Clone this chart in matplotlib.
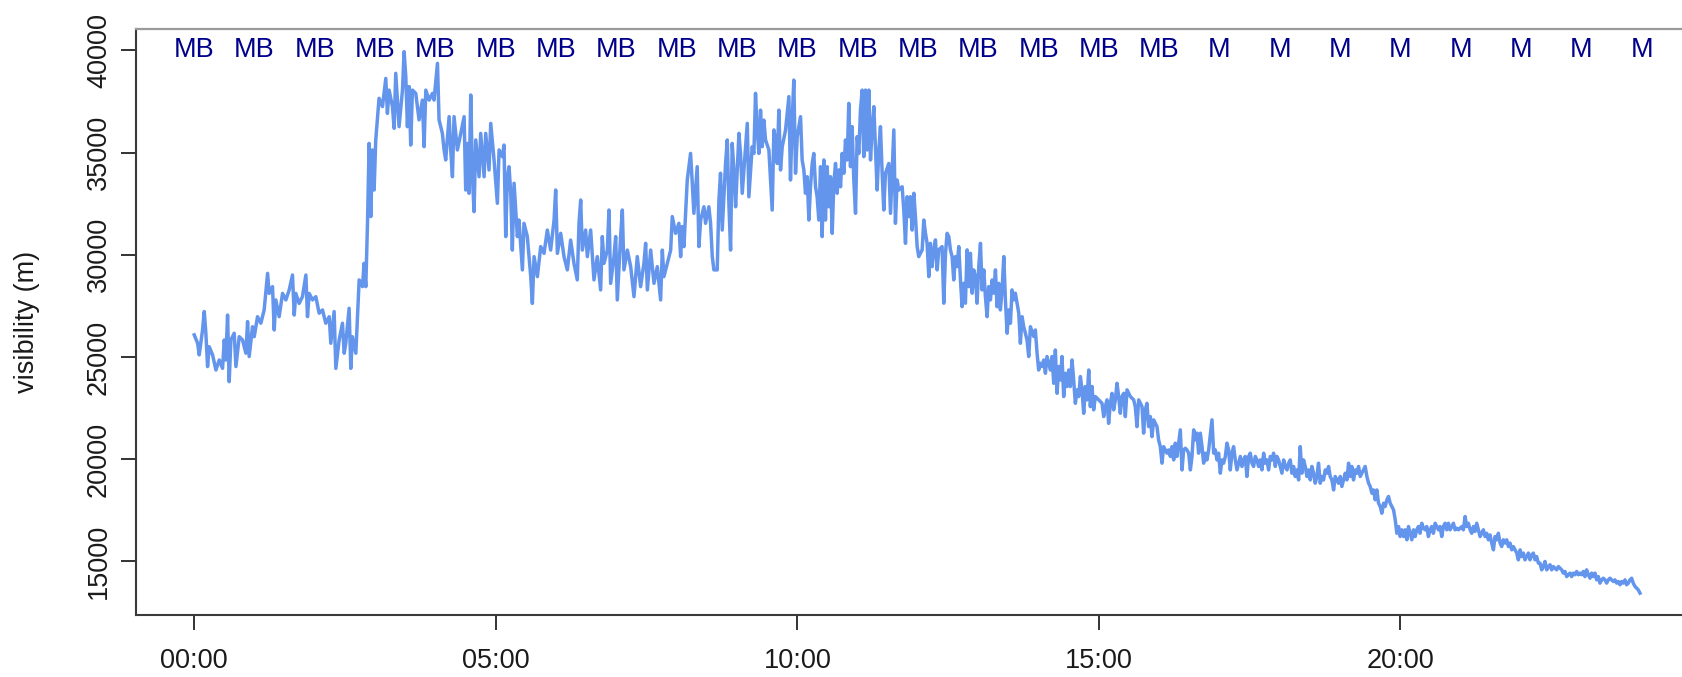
import matplotlib
matplotlib.use("Agg")
import matplotlib.pyplot as plt
import numpy as np

plt.rcParams['font.family'] = ['Liberation Sans', 'DejaVu Sans']

# ---- observations: minutes after midnight and visibility (m), by time window ----
min_00_04 = [
    0.0, 3.4, 5.0, 8.3, 10.0, 11.6, 13.3, 14.9, 18.3, 21.6,
    24.9, 28.2, 29.9, 31.5, 33.2, 34.8, 36.5, 39.8, 41.5, 44.8,
    48.1, 51.4, 53.1, 54.7, 58.0, 59.7, 63.0, 66.3, 69.6, 73.0,
    74.6, 77.9, 79.6, 81.2, 84.5, 87.9, 91.2, 94.5, 97.8, 99.5,
    101.1, 104.4, 107.7, 111.1, 112.7, 114.4, 117.7, 121.0, 124.3, 127.6,
    130.9, 134.3, 135.9, 139.2, 140.9, 144.2, 147.5, 149.2, 150.8, 154.1,
    155.8, 157.4, 160.8, 162.4, 164.1, 167.4, 169.0, 170.7, 172.4, 174.0,
    175.7, 177.3, 179.0, 180.6, 183.9, 187.3, 190.6, 192.2, 193.9, 197.2,
    198.9, 200.5, 203.8, 207.2, 208.8, 210.5, 212.1, 213.8, 215.4, 217.1,
    220.4, 223.7, 227.0, 228.7, 230.4, 233.7, 237.0]
vis_00_04 = [
    26080, 25670, 25100, 26320, 27220, 26160, 24530, 25500, 25100, 24360,
    24850, 24440, 25830, 24850, 27050, 23790, 25830, 26160, 24530, 25990,
    25830, 25180, 26730, 25020, 26480, 25990, 26970, 26650, 27300, 29090,
    28110, 28440, 26320, 27790, 26970, 28110, 27790, 28280, 29010, 27050,
    28110, 27620, 27950, 29010, 26970, 28110, 27790, 27950, 27140, 27300,
    26650, 26970, 25670, 27220, 24440, 25830, 26650, 25180, 25670, 27380,
    24440, 25990, 25180, 26970, 28770, 28440, 29580, 28440, 31540, 35450,
    31870, 35130, 33170, 35620, 37660, 37250, 38630, 36920, 38060, 37250,
    36190, 38880, 36270, 38060, 39940, 38720, 36270, 38230, 35370, 38060,
    37900, 36600, 37570, 35290, 38060, 37570, 37900]

min_04_08 = [
    238.6, 242.0, 243.6, 246.9, 248.6, 250.2, 253.6, 255.2, 256.9, 258.5,
    261.8, 265.2, 268.5, 270.1, 271.8, 273.4, 275.1, 276.8, 278.4, 280.1,
    283.4, 285.0, 288.4, 290.0, 293.3, 295.0, 298.3, 301.6, 303.3, 306.6,
    308.2, 309.9, 311.6, 313.2, 314.9, 316.5, 318.2, 321.5, 323.1, 326.5,
    328.1, 331.4, 334.8, 336.4, 338.1, 341.4, 344.7, 348.0, 351.3, 354.6,
    358.0, 359.6, 361.3, 364.6, 367.9, 371.2, 374.5, 377.8, 381.1, 382.8,
    384.5, 386.1, 389.4, 391.1, 394.4, 397.7, 401.0, 404.3, 406.0, 407.7,
    411.0, 412.6, 414.3, 417.6, 419.3, 420.9, 424.2, 425.9, 427.5, 430.9,
    434.2, 437.5, 440.8, 444.1, 447.4, 449.1, 450.8, 454.1, 457.4, 460.7,
    464.0, 465.7, 467.3, 470.6, 474.0, 475.6, 478.9]
vis_04_08 = [
    37570, 39370, 36600, 35940, 35130, 34640, 36760, 35130, 33820, 36760,
    35130, 35940, 36760, 33170, 35450, 33010, 37820, 33820, 32110, 35620,
    33820, 35940, 33820, 35940, 34150, 36430, 34640, 32520, 35130, 34800,
    35370, 30890, 33820, 34310, 33010, 30230, 33500, 30890, 31700, 29260,
    31540, 30890, 28930, 27620, 29910, 28930, 30400, 30070, 31210, 30230,
    31700, 33170, 30070, 31050, 29910, 29260, 30720, 29580, 28770, 31540,
    32680, 30230, 31210, 29910, 31210, 28770, 29910, 28280, 30890, 29580,
    30230, 32190, 28600, 29910, 30890, 27790, 30890, 32190, 29260, 30230,
    29420, 27950, 29910, 28440, 29580, 30560, 28280, 30230, 28600, 29420,
    27790, 30230, 28930, 29580, 30230, 31870, 31050]

min_08_12 = [
    482.2, 483.9, 485.5, 487.2, 490.5, 493.8, 495.5, 497.1, 500.4, 502.1,
    503.8, 507.1, 508.7, 512.0, 513.7, 515.4, 517.0, 520.3, 522.0, 523.6,
    525.3, 528.6, 530.3, 531.9, 533.6, 535.2, 536.9, 538.6, 541.9, 543.5,
    545.2, 548.5, 550.2, 551.8, 555.1, 556.8, 558.4, 560.1, 561.8, 563.4,
    565.1, 566.7, 568.4, 571.7, 575.0, 576.7, 578.3, 580.0, 581.6, 583.3,
    585.0, 588.3, 591.6, 593.2, 594.9, 596.5, 598.2, 599.9, 603.2, 604.8,
    606.5, 608.1, 609.8, 611.5, 613.1, 614.8, 616.4, 618.1, 619.7, 621.4,
    623.1, 624.7, 626.4, 628.0, 629.7, 631.3, 633.0, 634.7, 636.3, 638.0,
    639.6, 641.3, 643.0, 644.6, 646.3, 647.9, 649.6, 651.2, 652.9, 654.5,
    656.2, 657.9, 659.5, 661.2, 662.8, 664.5, 666.1, 667.8, 669.5, 671.1,
    672.8, 674.4, 676.1, 677.7, 679.4, 681.1, 682.7, 684.4, 686.0, 687.7,
    691.0, 692.7, 696.0, 697.6, 699.3, 700.9, 704.3, 705.9, 707.6, 709.2,
    710.9, 712.5, 714.2, 715.9, 717.5, 719.2, 720.8]
vis_08_12 = [
    31540, 29910, 31380, 30400, 33660, 34960, 33500, 32030, 34310, 30400,
    31700, 32350, 31540, 32350, 31540, 29910, 29260, 29260, 32680, 33990,
    31210, 34470, 35620, 32520, 30230, 35450, 34150, 32350, 35940, 34960,
    33010, 35290, 36430, 32840, 35290, 34960, 37900, 36110, 34960, 37080,
    35290, 36590, 35620, 35130, 32190, 36110, 35620, 34470, 37080, 34150,
    35290, 36110, 37740, 33660, 36590, 38550, 33990, 35780, 36760, 34640,
    34150, 33010, 33820, 31700, 33330, 34470, 34960, 33330, 32840, 31700,
    34310, 30890, 34640, 31700, 34310, 32350, 33820, 31050, 33500, 34470,
    33010, 34150, 33330, 34960, 33990, 35620, 34640, 37410, 34310, 36270,
    33660, 32030, 35780, 34960, 37080, 38060, 34800, 38060, 35130, 38060,
    34640, 36110, 37250, 35290, 33170, 35130, 36270, 33990, 32190, 33990,
    34470, 32030, 36110, 31540, 33660, 33170, 33330, 32190, 30560, 32840,
    31870, 32840, 31210, 33010, 31870, 30400, 29910]

min_12_16 = [
    724.2, 725.8, 727.5, 729.1, 730.8, 732.4, 734.1, 735.8, 737.4, 739.1,
    740.7, 744.0, 745.7, 747.4, 749.0, 750.7, 752.3, 754.0, 755.6, 757.3,
    759.0, 760.6, 762.3, 763.9, 765.6, 767.2, 768.9, 770.6, 772.2, 773.9,
    775.5, 777.2, 778.8, 780.5, 782.2, 783.8, 785.5, 787.1, 788.8, 790.4,
    792.1, 793.8, 795.4, 797.1, 798.7, 800.4, 802.0, 803.7, 805.4, 807.0,
    808.7, 810.3, 812.0, 813.6, 815.3, 816.9, 818.6, 820.3, 821.9, 823.6,
    825.2, 826.9, 828.5, 830.2, 831.9, 835.2, 836.8, 838.5, 840.1, 841.8,
    843.5, 845.1, 846.8, 848.4, 850.1, 851.7, 853.4, 855.1, 856.7, 858.4,
    860.0, 861.7, 863.3, 865.0, 866.7, 868.3, 870.0, 871.6, 873.3, 874.9,
    876.6, 878.3, 879.9, 881.6, 883.2, 884.9, 886.5, 888.2, 889.9, 891.5,
    893.2, 894.8, 896.5, 899.8, 903.1, 904.8, 906.4, 908.1, 909.7, 911.4,
    913.1, 914.7, 916.4, 918.0, 919.7, 921.3, 923.0, 924.7, 926.3, 928.0,
    931.3, 934.6, 936.2, 937.9, 939.6, 942.9, 944.5, 946.2, 947.8, 949.5,
    951.2, 952.8, 954.5, 957.8, 959.4, 961.1, 962.8, 964.4, 967.7]
vis_12_16 = [
    30240, 31700, 31050, 30560, 28930, 30560, 29420, 30240, 30730, 29260,
    30240, 30400, 27630, 30070, 31050, 30890, 30240, 29910, 28770, 29910,
    29420, 30400, 28770, 27460, 28600, 27630, 30240, 28440, 30070, 28120,
    29260, 28930, 27630, 29420, 30560, 28280, 29260, 27950, 26970, 28440,
    27790, 28770, 28120, 29260, 27460, 28600, 27300, 28280, 29910, 27790,
    26160, 27300, 26650, 28280, 27790, 28120, 27630, 27140, 25670, 26970,
    26480, 26160, 25830, 25020, 26480, 26000, 26320, 25180, 24360, 24690,
    24530, 24850, 24200, 25020, 24690, 24360, 25020, 23710, 25340, 23220,
    24530, 23870, 25020, 23060, 24200, 23550, 24360, 23550, 24850, 23870,
    22730, 23390, 23060, 24040, 23390, 22240, 23550, 22900, 24360, 22570,
    23550, 22410, 23060, 22900, 22730, 22080, 22570, 22900, 21750, 22730,
    23220, 22410, 22900, 23710, 23060, 22240, 23060, 23220, 22080, 23390,
    23060, 22900, 22570, 21590, 22900, 22570, 21270, 22410, 22730, 21590,
    22080, 21100, 21920, 21590, 20940, 20610, 19800, 20610, 20290]

min_16_20 = [
    969.4, 971.1, 972.7, 974.4, 976.0, 977.7, 979.4, 981.0, 982.7, 984.3,
    986.0, 987.6, 989.3, 991.0, 992.6, 994.3, 995.9, 997.6, 999.2, 1000.9,
    1002.6, 1004.2, 1005.9, 1007.5, 1009.2, 1012.5, 1014.2, 1015.8, 1017.5, 1019.1,
    1020.8, 1022.4, 1024.1, 1025.8, 1027.4, 1029.1, 1030.7, 1032.4, 1034.0, 1035.7,
    1037.4, 1039.0, 1040.7, 1042.3, 1044.0, 1045.6, 1047.3, 1049.0, 1050.6, 1052.3,
    1053.9, 1055.6, 1057.2, 1058.9, 1060.6, 1062.2, 1063.9, 1065.5, 1067.2, 1068.8,
    1070.5, 1072.2, 1073.8, 1075.5, 1077.1, 1078.8, 1080.4, 1082.1, 1083.8, 1085.4,
    1087.1, 1088.7, 1090.4, 1092.0, 1093.7, 1095.3, 1097.0, 1098.7, 1100.3, 1102.0,
    1103.6, 1105.3, 1106.9, 1108.6, 1110.3, 1111.9, 1113.6, 1115.2, 1116.9, 1118.5,
    1120.2, 1121.9, 1123.5, 1125.2, 1126.8, 1128.5, 1130.1, 1131.8, 1133.5, 1135.1,
    1136.8, 1138.4, 1140.1, 1141.7, 1143.4, 1145.1, 1146.7, 1148.4, 1150.0, 1151.7,
    1153.3, 1155.0, 1156.7, 1158.3, 1160.0, 1161.6, 1163.3, 1164.9, 1166.6, 1168.3,
    1169.9, 1171.6, 1173.2, 1174.9, 1176.5, 1178.2, 1179.9, 1181.5, 1183.2, 1184.8,
    1186.5, 1188.1, 1189.8, 1191.5, 1193.1, 1194.8, 1196.4, 1198.1, 1199.7, 1201.4,
    1203.1, 1204.7, 1206.4, 1208.0, 1209.7, 1211.3, 1213.0]
vis_16_20 = [
    20450, 20130, 20610, 19960, 20780, 20130, 20780, 21430, 19470, 20450,
    20530, 20450, 20290, 19470, 20130, 21430, 20940, 21270, 20290, 21270,
    20610, 19800, 20290, 19960, 20450, 21920, 20290, 20450, 19960, 20290,
    19310, 19960, 19800, 20130, 20780, 20450, 19470, 20290, 20610, 19960,
    19470, 19800, 20130, 19640, 19960, 20130, 19150, 20130, 20290, 19800,
    19640, 20130, 19960, 19640, 19960, 19470, 20290, 19800, 19960, 19470,
    20130, 19960, 20290, 19640, 20130, 19960, 19640, 19310, 19960, 19640,
    19470, 19800, 19960, 19310, 19640, 19150, 19470, 18980, 20610, 19310,
    19960, 19640, 19150, 19470, 18980, 19640, 19310, 18820, 19150, 19800,
    18820, 19150, 18980, 19470, 19310, 19640, 19150, 18980, 18490, 19150,
    18980, 18820, 19150, 18660, 18980, 19310, 18980, 19800, 19150, 19640,
    18980, 19470, 19310, 19640, 19150, 19310, 19470, 19640, 19150, 18820,
    18660, 18330, 18490, 18010, 18490, 17840, 17680, 17350, 17840, 17680,
    18010, 18170, 17840, 17680, 17520, 17030, 16370, 16700, 16210, 16540,
    16210, 16540, 16050, 16700, 16370, 16050, 16540]

min_20_24 = [
    1214.6, 1216.2, 1217.9, 1219.5, 1221.2, 1222.9, 1224.5, 1226.2, 1227.8, 1229.5,
    1231.1, 1232.8, 1234.5, 1236.1, 1237.8, 1239.4, 1241.1, 1242.7, 1244.4, 1246.1,
    1247.7, 1249.4, 1251.0, 1252.7, 1254.3, 1256.0, 1257.7, 1259.3, 1261.0, 1262.6,
    1264.3, 1265.9, 1267.6, 1269.3, 1270.9, 1272.6, 1274.2, 1275.9, 1277.5, 1279.2,
    1280.9, 1282.5, 1284.2, 1285.8, 1287.5, 1289.1, 1290.8, 1292.5, 1294.1, 1295.8,
    1297.4, 1299.1, 1300.7, 1302.4, 1304.1, 1305.7, 1307.4, 1309.0, 1310.7, 1312.3,
    1314.0, 1315.7, 1317.3, 1319.0, 1320.6, 1322.3, 1323.9, 1325.6, 1327.3, 1328.9,
    1330.6, 1332.2, 1333.9, 1335.5, 1337.2, 1338.9, 1340.5, 1342.2, 1343.8, 1345.5,
    1347.1, 1348.8, 1350.4, 1352.1, 1353.8, 1355.4, 1357.1, 1358.7, 1360.4, 1362.0,
    1363.7, 1365.4, 1367.0, 1368.7, 1370.3, 1372.0, 1373.6, 1375.3, 1377.0, 1378.6,
    1380.3, 1381.9, 1383.6, 1385.2, 1386.9, 1388.6, 1390.2, 1391.9, 1393.5, 1395.2,
    1396.8, 1398.5, 1400.2, 1401.8, 1403.5, 1405.1, 1406.8, 1408.4, 1410.1, 1411.8,
    1413.4, 1415.1, 1416.7, 1418.4, 1420.0, 1421.7, 1423.4, 1425.0, 1426.7, 1428.3,
    1430.0, 1431.6, 1433.3, 1435.0, 1436.6, 1438.3]
vis_20_24 = [
    16210, 16540, 16700, 16370, 16860, 16620, 16540, 16700, 16210, 16540,
    16700, 16370, 16860, 16700, 16540, 16700, 16210, 16700, 16860, 16540,
    16860, 16540, 16700, 16860, 16540, 16620, 16540, 16620, 16700, 16540,
    17190, 16700, 16860, 16540, 16370, 16700, 16460, 16860, 16540, 16210,
    16370, 16540, 16210, 16370, 16050, 16290, 15890, 15560, 16210, 16050,
    16370, 15890, 15720, 16050, 15890, 16050, 15720, 15890, 15560, 15720,
    15560, 15400, 15070, 15560, 15230, 15400, 15070, 15230, 15400, 15070,
    15310, 15400, 15070, 15230, 14910, 14910, 14580, 14740, 14990, 14580,
    14740, 14830, 14580, 14740, 14660, 14580, 14740, 14660, 14580, 14420,
    14500, 14250, 14340, 14420, 14250, 14420, 14340, 14500, 14340, 14420,
    14340, 14500, 14250, 14580, 14340, 14170, 14420, 14250, 14420, 14090,
    14250, 13930, 14090, 14170, 14090, 13930, 14090, 14170, 14090, 14010,
    14090, 13930, 14010, 13850, 14010, 13930, 14090, 13850, 13930, 14090,
    14170, 13930, 13770, 13680, 13600, 13440]

# hourly sky-condition flags written along the top of the plot
flag_hours = list(range(25))
flags = ["MB"] * 17 + ["M"] * 8

x_ticks = [0, 5, 10, 15, 20]
x_tick_labels = ["00:00", "05:00", "10:00", "15:00", "20:00"]
y_ticks = [15000, 20000, 25000, 30000, 35000, 40000]

minutes = np.concatenate([min_00_04, min_04_08, min_08_12,
                          min_12_16, min_16_20, min_20_24])
visibility = np.concatenate([vis_00_04, vis_04_08, vis_08_12,
                             vis_12_16, vis_16_20, vis_20_24])
hours = minutes / 60.0

W, H = 1683, 677
fig = plt.figure(figsize=(W / 100, H / 100), dpi=100)
# plot region runs off the right edge of the canvas
ax = fig.add_axes([136.3 / W, 62 / H, (1699.6 - 136.3) / W, 586 / H])

ax.plot(hours, visibility, color='#6495ED', lw=2.5, solid_joinstyle='round')

ax.set_xlim(-0.96, 24.96)
ax.set_ylim(12370, 41050)

ax.set_xticks(x_ticks)
ax.set_xticklabels(x_tick_labels)
ax.set_yticks(y_ticks)
ax.set_yticklabels([str(v) for v in y_ticks], rotation=90, va='center')

fs = 19.5
ax.tick_params(axis='both', direction='out', length=11, width=1.4,
               color='#333333', labelsize=fs, labelcolor='#1a1a1a')
ax.tick_params(axis='x', pad=13)
ax.tick_params(axis='y', pad=6.5)

ax.spines['right'].set_visible(False)
ax.spines['top'].set_color('#9a9a9a')
ax.spines['top'].set_linewidth(1.6)
for side in ('left', 'bottom'):
    ax.spines[side].set_color('#3a3a3a')
    ax.spines[side].set_linewidth(1.5)

for h, f in zip(flag_hours, flags):
    ax.text(h, 40000, f, ha='center', va='center', color='#00008B',
            fontsize=fs)

fig.text(27 / W, 1 - 322 / H, "visibility (m)", rotation=90,
         ha='center', va='center', fontsize=fs, color='#1a1a1a')

fig.savefig("out.png", dpi=100)
